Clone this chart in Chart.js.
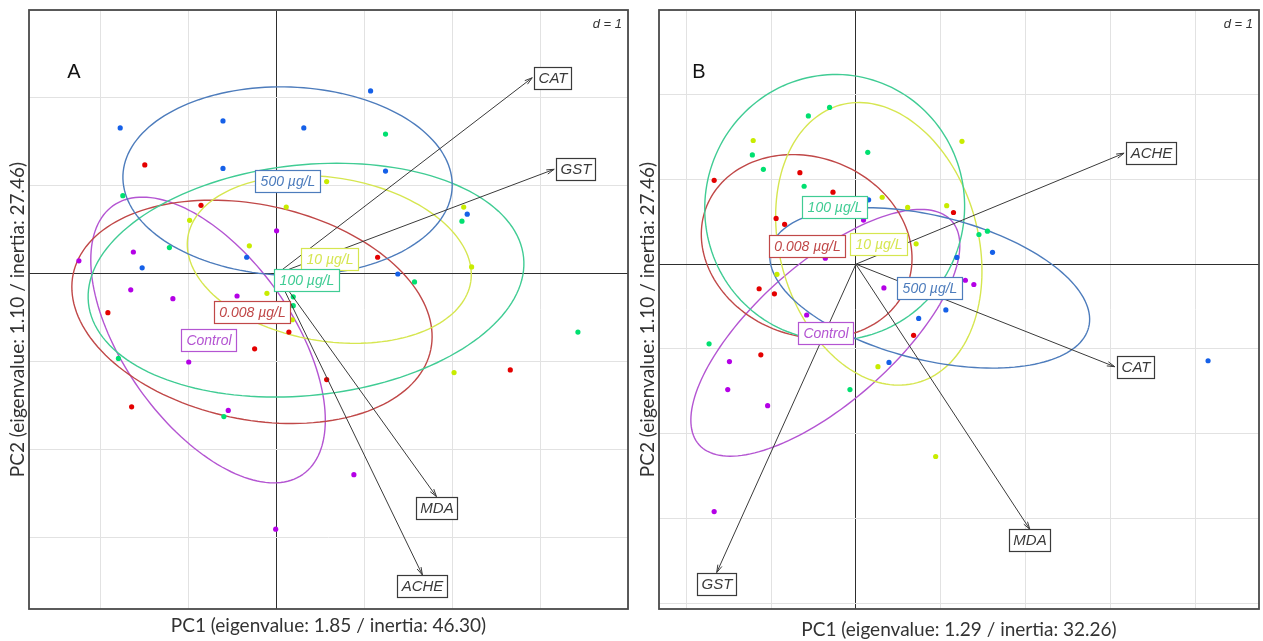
<!DOCTYPE html>
<html>
<head>
<meta charset="utf-8">
<title>PCA biplots</title>
<script src="https://cdn.jsdelivr.net/npm/chart.js@4.4.0/dist/chart.umd.min.js"></script>
<style>
  body { margin: 0; background: #fff; }
  canvas { position: absolute; top: 0; }
</style>
</head>
<body>
<canvas id="pcaA" width="632" height="641" style="left:0px"></canvas>
<canvas id="pcaB" width="633" height="641" style="left:630px"></canvas>
<script>
// Groups (same order in both panels)
const groupNames = ["Control", "0.008 µg/L", "10 µg/L", "100 µg/L", "500 µg/L"];
const pointColors = ["#b400e6", "#e40000", "#c8ec00", "#00e070", "#1560e8"];
const lineColors = ["#b455d2", "#c04848", "#d6e650", "#40cc94", "#4d7cbc"];

// Panel A - individual scores
const aControlX = [0.00, -1.63, -2.25, -1.66, -1.18, -0.45, -1.00, -0.55, -0.01, 0.88];
const aControlY = [0.49, 0.25, 0.15, -0.18, -0.28, -0.25, -1.00, -1.55, -2.90, -2.28];
const a008X = [-1.50, -0.86, -1.92, 0.14, -0.25, -1.65, 1.15, 2.66, 0.57];
const a008Y = [1.24, 0.78, -0.44, -0.66, -0.85, -1.51, 0.19, -1.09, -1.20];
const a10X = [0.11, -0.99, -0.31, -0.11, 0.57, 2.13, 2.22, 2.02, 0.18];
const a10Y = [0.76, 0.61, 0.32, -0.22, 1.05, 0.76, 0.08, -1.12, -0.52];
const a100X = [-1.75, -1.22, 0.19, 0.19, 1.24, 2.11, 1.57, -1.80, -0.60, 3.43];
const a100Y = [0.89, 0.30, -0.26, -0.36, 1.59, 0.60, -0.09, -0.96, -1.62, -0.66];
const a500X = [-1.78, -0.61, 0.31, -0.61, -0.34, -1.53, 1.07, 1.24, 2.17, 1.38];
const a500Y = [1.66, 1.74, 1.66, 1.20, 0.19, 0.07, 2.08, 1.17, 0.68, 0.00];

// Panel A - ellipses (centre, semi axes, angle in degrees)
const ellCxA = [-0.78, -0.28, 0.60, 0.335, 0.125];
const ellCyA = [-0.75, -0.43, 0.165, -0.07, 1.055];
const ellAA = [1.87, 2.08, 1.63, 2.49, 1.875];
const ellBA = [0.96, 1.22, 0.93, 1.31, 1.07];
const ellAngA = [-54.7, -12, -9, 6, -2];

// Panel A - variables
const varsA = ["CAT", "GST", "MDA", "ACHE"];
const loadXA = [2.91, 3.16, 1.82, 1.66];
const loadYA = [2.23, 1.19, -2.53, -3.42];

// Panel B - individual scores
const bControlX = [0.09, 0.33, -0.58, 1.29, 1.39, -1.49, -1.51, -1.04, -1.67, -0.36];
const bControlY = [0.52, -0.28, -0.60, -0.19, -0.24, -1.15, -1.48, -1.67, -2.92, 0.07];
const b008X = [-1.67, -0.66, -0.27, 1.15, -0.94, -0.84, -1.14, -0.96, 0.68, -1.12];
const b008Y = [0.99, 1.08, 0.85, 0.61, 0.54, 0.47, -0.29, -0.35, -0.84, -1.07];
const b10X = [-1.21, 0.31, 0.61, 1.07, 0.71, -0.93, 1.25, 0.26, 0.94];
const b10Y = [1.46, 0.79, 0.67, 0.69, 0.24, -0.12, 1.45, -1.21, -2.27];
const b100X = [-0.31, -0.56, -1.22, 0.14, -1.09, -0.61, 1.45, 1.55, -1.73, -0.07];
const b100Y = [1.85, 1.75, 1.29, 1.32, 1.12, 0.92, 0.35, 0.39, -0.94, -1.48];
const b500X = [0.15, 1.19, 0.74, 1.06, 1.61, 0.39, 4.15];
const b500Y = [0.76, 0.08, -0.64, -0.54, 0.14, -1.16, -1.14];

// Panel B - ellipses
const ellCxB = [-0.36, -0.58, 0.27, -0.25, 0.87];
const ellCyB = [-0.81, 0.21, 0.24, 0.67, -0.28];
const ellAB = [1.99, 1.27, 1.70, 1.57, 1.93];
const ellBB = [0.82, 1.05, 1.17, 1.53, 0.85];
const ellAngB = [41.6, -22, -74.5, 80, -13.9];

// Panel B - variables
const varsB = ["ACHE", "CAT", "MDA", "GST"];
const loadXB = [3.16, 3.05, 2.05, -1.64];
const loadYB = [1.31, -1.21, -3.13, -3.64];

// Axis ranges and grid (d = 1)
const rangeXA = [-2.818, 4.0], rangeYA = [-3.807, 3.0];
const rangeXB = [-2.32, 4.75], rangeYB = [-4.07, 3.0];
const gridXA = [-2, -1, 0, 1, 2, 3, 4], gridYA = [-3, -2, -1, 0, 1, 2, 3];
const gridXB = [-2, -1, 0, 1, 2, 3, 4], gridYB = [-4, -3, -2, -1, 0, 1, 2, 3];

const titleY = "PC2 (eigenvalue: 1.10 / inertia: 27.46)";
const titleXA = "PC1 (eigenvalue: 1.85 / inertia: 46.30)";
const titleXB = "PC1 (eigenvalue: 1.29 / inertia: 32.26)";

function toPoints(xs, ys) {
    return xs.map((v, i) => ({ x: v, y: ys[i] }));
}

function labelBox(ctx, text, cx, cy, color, font, padX, h) {
    ctx.font = font;
    const w = Math.round(ctx.measureText(text).width + 2 * padX);
    const left = Math.round(cx - w / 2), top = Math.round(cy - h / 2);
    ctx.fillStyle = "#fff";
    ctx.fillRect(left, top, w, h);
    ctx.strokeStyle = color;
    ctx.lineWidth = 1.2;
    ctx.strokeRect(left + 0.5, top + 0.5, w, h);
    ctx.fillStyle = color;
    ctx.textAlign = "center";
    ctx.textBaseline = "middle";
    ctx.fillText(text, left + w / 2 + 0.5, top + h / 2 + 1);
}

function measureBox(ctx, text, font, padX) {
    ctx.font = font;
    return ctx.measureText(text).width + 2 * padX;
}

// Ellipses, arrows and labels drawn on the chart's own scales
function pcaPlugin(panel) {
    return {
        id: "pca" + panel.letter,
        beforeDatasetsDraw(chart) {
            const { ctx, chartArea: ca, scales: { x, y } } = chart;
            ctx.save();
            ctx.beginPath();
            ctx.rect(ca.left, ca.top, ca.right - ca.left, ca.bottom - ca.top);
            ctx.clip();
            ctx.lineWidth = 1.4;
            for (let g = 0; g < groupNames.length; g++) {
                const th = panel.ang[g] * Math.PI / 180;
                ctx.strokeStyle = lineColors[g];
                ctx.beginPath();
                for (let i = 0; i <= 160; i++) {
                    const t = i / 160 * 2 * Math.PI;
                    const u = panel.a[g] * Math.cos(t), v = panel.b[g] * Math.sin(t);
                    const px = x.getPixelForValue(panel.cx[g] + u * Math.cos(th) - v * Math.sin(th));
                    const py = y.getPixelForValue(panel.cy[g] + u * Math.sin(th) + v * Math.cos(th));
                    if (i === 0) ctx.moveTo(px, py); else ctx.lineTo(px, py);
                }
                ctx.stroke();
            }
            ctx.restore();
        },
        afterDatasetsDraw(chart) {
            const { ctx, chartArea: ca, scales: { x, y } } = chart;
            const ox = x.getPixelForValue(0), oy = y.getPixelForValue(0);
            const varFont = 'italic 15px "Liberation Sans", Arial, sans-serif';
            const grpFont = 'italic 14px "Liberation Sans", Arial, sans-serif';
            ctx.save();

            // arrows
            ctx.strokeStyle = "#3a3a3a";
            ctx.lineWidth = 1;
            for (let i = 0; i < panel.vars.length; i++) {
                const tx = x.getPixelForValue(panel.lx[i]), ty = y.getPixelForValue(panel.ly[i]);
                const ang = Math.atan2(ty - oy, tx - ox);
                ctx.beginPath();
                ctx.moveTo(ox, oy);
                ctx.lineTo(tx, ty);
                for (const s of [-1, 1]) {
                    ctx.moveTo(tx, ty);
                    ctx.lineTo(tx - 8 * Math.cos(ang + s * 0.28), ty - 8 * Math.sin(ang + s * 0.28));
                }
                ctx.stroke();
            }

            // variable labels (placed like ade4 eti.circ)
            for (let i = 0; i < panel.vars.length; i++) {
                const dx = panel.lx[i], dy = panel.ly[i];
                const tx = x.getPixelForValue(dx), ty = y.getPixelForValue(dy);
                const w = measureBox(ctx, panel.vars[i], varFont, 4), h = 22;
                let cx = tx, cy = ty;
                if (dx > dy && dx > -dy) cx = tx + w / 2 + 2;
                else if (dx > dy && dx <= -dy) cy = ty + h / 2;
                else if (dx <= dy && dx <= -dy) cx = tx - w / 2 - 2;
                else cy = ty - h / 2;
                labelBox(ctx, panel.vars[i], cx, cy, "#3a3a3a", varFont, 4, h);
            }

            // group labels at centroids
            for (let g = 0; g < groupNames.length; g++) {
                labelBox(ctx, groupNames[g], x.getPixelForValue(panel.cx[g]), y.getPixelForValue(panel.cy[g]),
                    lineColors[g], grpFont, 5, 22);
            }

            // frame
            ctx.strokeStyle = "#4a4a4a";
            ctx.lineWidth = 1.8;
            ctx.strokeRect(ca.left, ca.top, ca.right - ca.left, ca.bottom - ca.top);

            // d = 1 and panel letter
            ctx.fillStyle = "#333";
            ctx.font = 'italic 13px "Liberation Sans", Arial, sans-serif';
            ctx.textAlign = "right";
            ctx.textBaseline = "alphabetic";
            ctx.fillText("d = 1", ca.right - 6, ca.top + 18);
            ctx.fillStyle = "#111";
            ctx.font = '20px "Liberation Sans", Arial, sans-serif';
            ctx.textAlign = "center";
            ctx.textBaseline = "middle";
            ctx.fillText(panel.letter, ca.left + panel.letterDx, ca.top + 62);

            // y axis title (sits a little below the plot centre in the original)
            ctx.save();
            ctx.translate(ca.left - 11, (ca.top + ca.bottom) / 2 + 10);
            ctx.rotate(-Math.PI / 2);
            ctx.fillStyle = "#333";
            ctx.font = '19px Lato, sans-serif';
            ctx.fillText(titleY, 0, 0);
            ctx.restore();
            ctx.restore();
        }
    };
}

function makeScale(range, grid, title, padTitle) {
    return {
        type: "linear",
        min: range[0],
        max: range[1],
        afterBuildTicks: s => { s.ticks = grid.map(v => ({ value: v })); },
        afterFit: s => { if (s.isHorizontal()) s.height = 32; else s.width = 29; },
        ticks: { display: false },
        grid: {
            drawTicks: false,
            lineWidth: 1,
            color: c => (c.tick && c.tick.value === 0) ? "#2e2e2e" : "#e2e2e2"
        },
        border: { display: false },
        title: {
            display: title !== null,
            text: title,
            color: "#333",
            font: { family: "Lato", size: 19 },
            padding: padTitle
        }
    };
}

function initChart(id, panel, series, rx, ry, gx, gy, tx, padX, padRight) {
    const datasets = series.map((s, g) => ({
        label: groupNames[g],
        data: toPoints(s[0], s[1]),
        backgroundColor: pointColors[g],
        borderWidth: 0,
        pointRadius: 2.6
    }));
    new Chart(document.getElementById(id).getContext("2d"), {
        type: "scatter",
        data: { datasets: datasets },
        options: {
            responsive: false,
            animation: false,
            layout: { padding: { left: 0, right: padRight, top: 10, bottom: 0 } },
            plugins: { legend: { display: false }, tooltip: { enabled: false } },
            scales: {
                x: makeScale(rx, gx, tx, { top: 0, bottom: padX }),
                y: makeScale(ry, gy, null, 0)
            }
        },
        plugins: [pcaPlugin(panel)]
    });
}

document.addEventListener("DOMContentLoaded", function () {
    initChart("pcaA",
        { letter: "A", letterDx: 45, cx: ellCxA, cy: ellCyA, a: ellAA, b: ellBA, ang: ellAngA, vars: varsA, lx: loadXA, ly: loadYA },
        [[aControlX, aControlY], [a008X, a008Y], [a10X, a10Y], [a100X, a100Y], [a500X, a500Y]],
        rangeXA, rangeYA, gridXA, gridYA, titleXA, 3.6, 3);
    initChart("pcaB",
        { letter: "B", letterDx: 40, cx: ellCxB, cy: ellCyB, a: ellAB, b: ellBB, ang: ellAngB, vars: varsB, lx: loadXB, ly: loadYB },
        [[bControlX, bControlY], [b008X, b008Y], [b10X, b10Y], [b100X, b100Y], [b500X, b500Y]],
        rangeXB, rangeYB, gridXB, gridYB, titleXB, 0, 4);
});
</script>
</body>
</html>
